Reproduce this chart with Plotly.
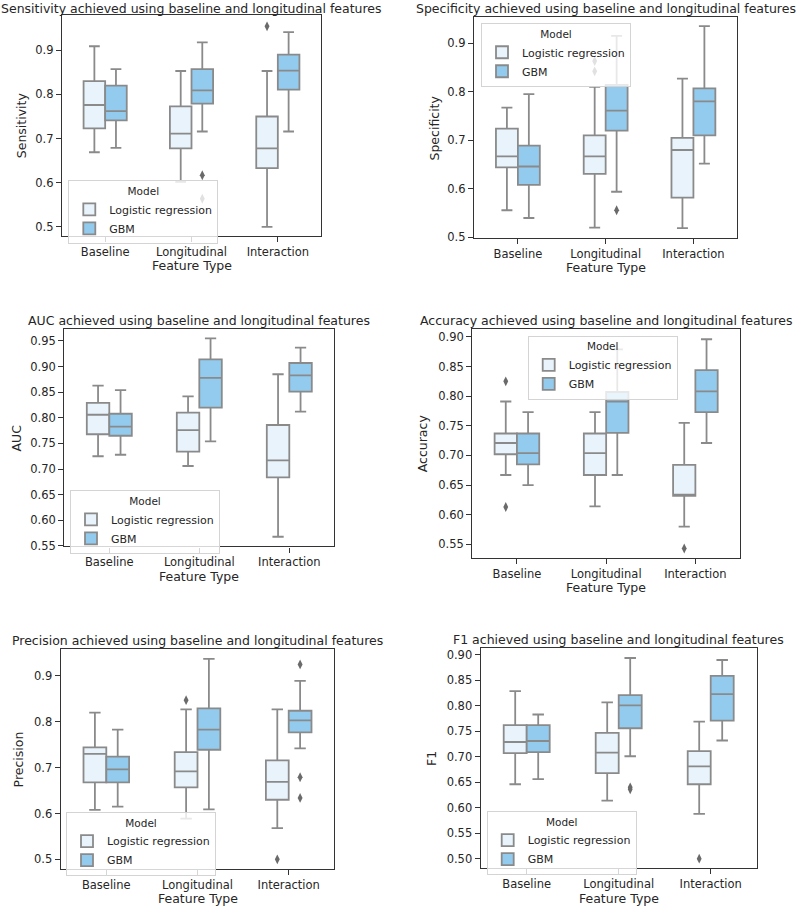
import plotly.graph_objects as go

categories = ["Baseline", "Longitudinal", "Interaction"]
models = ["Logistic regression", "GBM"]

# Each row: [lower whisker, Q1, median, Q3, upper whisker] for Baseline, Longitudinal, Interaction
sensitivity_lr = [[0.669, 0.723, 0.776, 0.830, 0.909],
                  [0.602, 0.678, 0.711, 0.773, 0.853],
                  [0.500, 0.633, 0.678, 0.750, 0.853]]
sensitivity_gbm = [[0.679, 0.741, 0.762, 0.820, 0.857],
                   [0.716, 0.779, 0.809, 0.857, 0.918],
                   [0.716, 0.811, 0.854, 0.890, 0.941]]
sensitivity_lr_out = [[], [], [0.954]]
sensitivity_gbm_out = [[], [0.617, 0.564], []]

specificity_lr = [[0.556, 0.644, 0.667, 0.724, 0.767],
                  [0.520, 0.631, 0.667, 0.710, 0.810],
                  [0.519, 0.582, 0.680, 0.705, 0.827]]
specificity_gbm = [[0.540, 0.608, 0.646, 0.689, 0.795],
                   [0.594, 0.720, 0.761, 0.814, 0.915],
                   [0.652, 0.710, 0.780, 0.807, 0.935]]
specificity_lr_out = [[], [0.863, 0.842], []]
specificity_gbm_out = [[], [0.556], []]

auc_lr = [[0.725, 0.768, 0.806, 0.829, 0.863],
          [0.706, 0.734, 0.776, 0.810, 0.842],
          [0.568, 0.684, 0.717, 0.786, 0.885]]
auc_gbm = [[0.728, 0.765, 0.783, 0.808, 0.854],
           [0.754, 0.820, 0.878, 0.914, 0.955],
           [0.812, 0.851, 0.883, 0.907, 0.937]]
auc_lr_out = [[], [], []]
auc_gbm_out = [[], [], []]

accuracy_lr = [[0.667, 0.702, 0.721, 0.737, 0.791],
               [0.614, 0.667, 0.704, 0.737, 0.773],
               [0.580, 0.632, 0.632, 0.684, 0.755]]
accuracy_gbm = [[0.650, 0.685, 0.704, 0.737, 0.773],
                [0.667, 0.738, 0.791, 0.807, 0.879],
                [0.721, 0.773, 0.808, 0.844, 0.896]]
accuracy_lr_out = [[0.825, 0.613], [], [0.543]]
accuracy_gbm_out = [[], [], []]

precision_lr = [[0.608, 0.668, 0.730, 0.744, 0.820],
                [0.589, 0.657, 0.692, 0.734, 0.827],
                [0.568, 0.630, 0.669, 0.716, 0.827]]
precision_gbm = [[0.615, 0.668, 0.696, 0.724, 0.783],
                 [0.609, 0.739, 0.783, 0.829, 0.937],
                 [0.742, 0.777, 0.803, 0.824, 0.889]]
precision_lr_out = [[], [0.847], [0.500]]
precision_gbm_out = [[], [], [0.925, 0.679, 0.634]]

f1_lr = [[0.646, 0.707, 0.729, 0.762, 0.829],
         [0.614, 0.668, 0.708, 0.747, 0.807],
         [0.588, 0.646, 0.681, 0.711, 0.769]]
f1_gbm = [[0.656, 0.709, 0.731, 0.762, 0.783],
          [0.701, 0.756, 0.801, 0.821, 0.894],
          [0.732, 0.771, 0.823, 0.859, 0.890]]
f1_lr_out = [[], [], [0.500]]
f1_gbm_out = [[], [0.640, 0.636], []]

metric_names = ["Sensitivity", "Specificity", "AUC", "Accuracy", "Precision", "F1"]
metric_stats = [(sensitivity_lr, sensitivity_gbm), (specificity_lr, specificity_gbm),
                (auc_lr, auc_gbm), (accuracy_lr, accuracy_gbm),
                (precision_lr, precision_gbm), (f1_lr, f1_gbm)]
metric_outliers = [(sensitivity_lr_out, sensitivity_gbm_out), (specificity_lr_out, specificity_gbm_out),
                   (auc_lr_out, auc_gbm_out), (accuracy_lr_out, accuracy_gbm_out),
                   (precision_lr_out, precision_gbm_out), (f1_lr_out, f1_gbm_out)]

# ---- presentation (pixels in an 800x914 canvas) ----
W, H = 800, 914
panels = [
    # frame left, right, top, bottom (px), y range, dtick, fmt, ytitle x (px), legend left/top (px)
    dict(box=(62, 321, 15, 238), yr=(0.479, 0.98), dt=0.1, fmt=".1f", ytx=21.7, leg=(68.3, 181.7)),
    dict(box=(474, 737.3, 17, 240), yr=(0.4985, 0.954), dt=0.1, fmt=".1f", ytx=435, leg=(481, 23.3)),
    dict(box=(64.3, 334.3, 331.7, 550.7), yr=(0.549, 0.973), dt=0.05, fmt=".2f", ytx=16.7, leg=(70, 494)),
    dict(box=(472.3, 740, 331.7, 562.3), yr=(0.527, 0.913), dt=0.05, fmt=".2f", ytx=422.7, leg=(527.7, 338.3)),
    dict(box=(60.7, 334.3, 654.3, 875.7), yr=(0.479, 0.958), dt=0.1, fmt=".1f", ytx=18.3, leg=(66, 818.3)),
    dict(box=(480.7, 756.7, 653.3, 875), yr=(0.481, 0.913), dt=0.05, fmt=".2f", ytx=431.7, leg=(486.7, 817.3)),
]

fill_colors = ["#E8F3FB", "#92CBEE"]
edge_color = "#8a8a8a"
offsets = [-0.125, 0.125]
text_color = "#262626"
font_family = "DejaVu Sans"

fig = go.Figure()
layout = dict(width=W, height=H, margin=dict(l=0, r=0, t=0, b=0),
              paper_bgcolor="white", plot_bgcolor="white",
              font=dict(family=font_family, color=text_color, size=11),
              boxmode="overlay", annotations=[])

def px_x(v):
    return v / W

def px_y(v):
    return 1 - v / H

for p, (name, stats, outs, cfg) in enumerate(zip(metric_names, metric_stats, metric_outliers, panels)):
    n = p + 1
    xa = "x" if n == 1 else f"x{n}"
    ya = "y" if n == 1 else f"y{n}"
    leg = "legend" if n == 1 else f"legend{n}"
    for m, model in enumerate(models):
        s = stats[m]
        xs = [i + offsets[m] for i in range(len(categories))]
        fig.add_trace(go.Box(
            x=xs,
            lowerfence=[r[0] for r in s], q1=[r[1] for r in s], median=[r[2] for r in s],
            q3=[r[3] for r in s], upperfence=[r[4] for r in s],
            width=0.25, whiskerwidth=0.5, boxpoints=False,
            fillcolor=fill_colors[m], line=dict(color=edge_color, width=1.8),
            name=model, legend=leg, showlegend=True, hoverinfo="skip",
            xaxis=xa, yaxis=ya))
    for m, model in enumerate(models):
        ox, oy = [], []
        for i, vals in enumerate(outs[m]):
            for v in vals:
                ox.append(i + offsets[m])
                oy.append(v)
        if ox:
            fig.add_trace(go.Scatter(
                x=ox, y=oy, mode="markers",
                marker=dict(symbol="diamond-tall", size=7, color="#6a6a6a", line=dict(width=0)),
                showlegend=False, hoverinfo="skip", xaxis=xa, yaxis=ya))

    l, r, t, b = cfg["box"]
    axkey_x = "xaxis" if n == 1 else f"xaxis{n}"
    axkey_y = "yaxis" if n == 1 else f"yaxis{n}"
    layout[axkey_x] = dict(domain=[px_x(l), px_x(r)], anchor=ya, range=[-0.5, 2.5],
                           tickmode="array", tickvals=list(range(len(categories))), ticktext=categories,
                           showgrid=False, zeroline=False, showline=True, mirror=True,
                           linecolor="#333333", linewidth=1.3, ticks="outside", ticklen=5,
                           tickwidth=1.2, tickcolor="#333333",
                           tickfont=dict(size=11.5, color=text_color))
    layout[axkey_y] = dict(domain=[px_y(b), px_y(t)], anchor=xa, range=list(cfg["yr"]),
                           tick0=0, dtick=cfg["dt"], tickformat=cfg["fmt"],
                           showgrid=False, zeroline=False, showline=True, mirror=True,
                           linecolor="#333333", linewidth=1.3, ticks="outside", ticklen=5,
                           tickwidth=1.2, tickcolor="#333333",
                           tickfont=dict(size=11.5, color=text_color))
    lx, ly = cfg["leg"]
    layout[leg] = dict(x=px_x(lx), y=px_y(ly), xanchor="left", yanchor="top",
                       bgcolor="rgba(255,255,255,0.8)", bordercolor="#d4d4d4", borderwidth=1,
                       font=dict(size=11, color=text_color), itemwidth=30, tracegroupgap=0,
                       title=dict(text="Model", side="top center", font=dict(size=10.5, color=text_color)))
    # panel title
    layout["annotations"].append(dict(
        text=f"{name} achieved using baseline and longitudinal features",
        x=px_x((l + r) / 2), y=px_y(max(t - 9, 8.5)), xref="paper", yref="paper",
        xanchor="center", yanchor="middle", showarrow=False,
        font=dict(size=12.5, color=text_color)))
    # x axis title
    layout["annotations"].append(dict(
        text="Feature Type", x=px_x((l + r) / 2), y=px_y(b + 30), xref="paper", yref="paper",
        xanchor="center", yanchor="middle", showarrow=False, font=dict(size=12.5, color=text_color)))
    # y axis title
    layout["annotations"].append(dict(
        text=name, x=px_x(cfg["ytx"]), y=px_y((t + b) / 2), xref="paper", yref="paper",
        xanchor="center", yanchor="middle", showarrow=False, textangle=-90,
        font=dict(size=12.5, color=text_color)))

fig.update_layout(**layout)
fig.write_html("out.html", config={"displayModeBar": False},
               post_script="document.body.style.margin='0';document.body.style.overflow='hidden';")
